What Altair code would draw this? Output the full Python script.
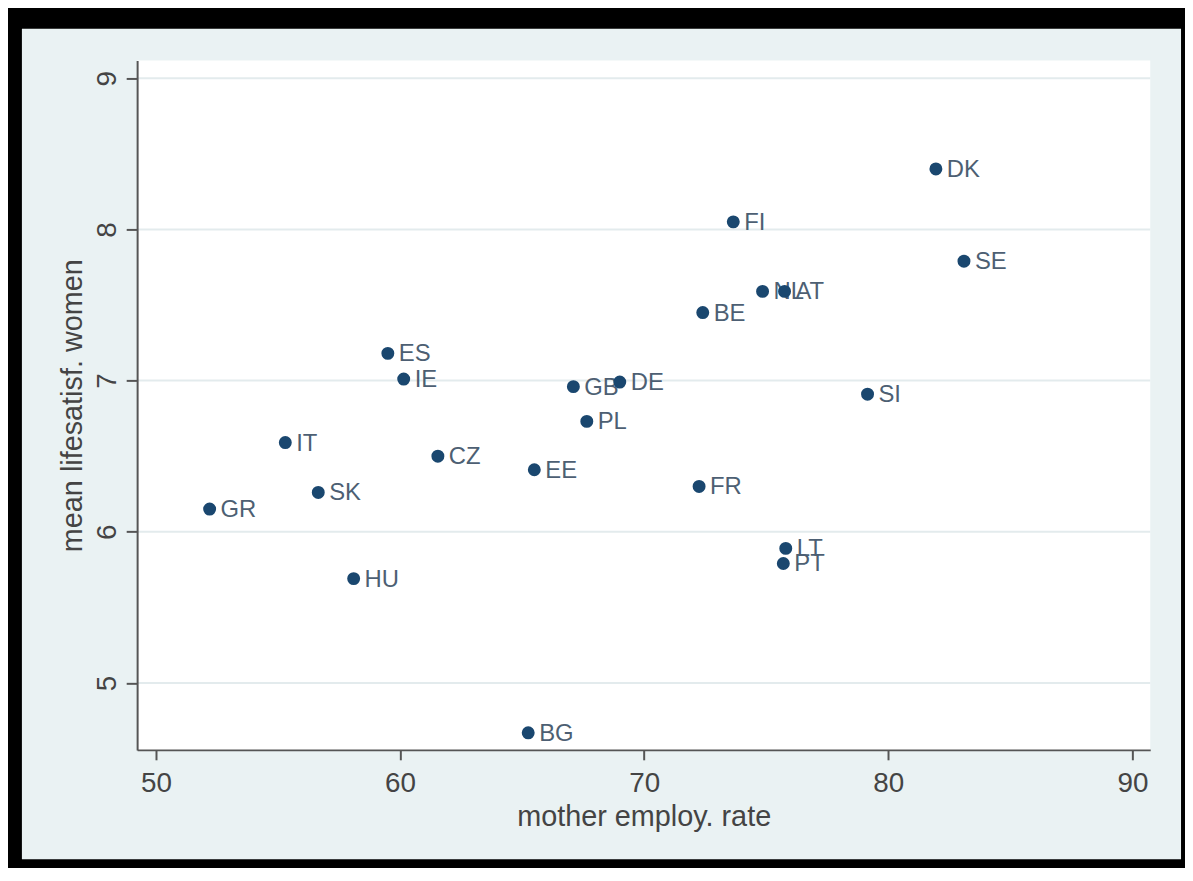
import altair as alt
import pandas as pd

countries = ["DK", "FI", "SE", "NL", "AT", "BE", "ES", "IE", "GB", "DE", "SI",
             "PL", "IT", "CZ", "EE", "FR", "SK", "GR", "LT", "PT", "HU", "BG"]
employ = [81.95, 73.65, 83.1, 74.85, 75.75, 72.4, 59.5, 60.15, 67.1, 69.0, 79.15,
          67.65, 55.3, 61.55, 65.5, 72.25, 56.65, 52.2, 75.8, 75.7, 58.1, 65.25]
satisf = [8.40, 8.05, 7.79, 7.59, 7.59, 7.45, 7.18, 7.01, 6.96, 6.99, 6.91,
          6.73, 6.59, 6.50, 6.41, 6.30, 6.26, 6.15, 5.89, 5.79, 5.69, 4.67]
x_ticks = [50, 60, 70, 80, 90]
y_ticks = [5, 6, 7, 8, 9]

df = pd.DataFrame({"country": countries, "employ": employ, "satisf": satisf})
grid_df = pd.DataFrame({"satisf": y_ticks})
one = pd.DataFrame({"a": [0]})

W, H = 1020, 694
FONT = "Liberation Sans"
LIGHT = "#eaf2f3"
NAVY = "#1a476f"

xscale = alt.Scale(domain=[49.23, 90.73], nice=False, zero=False)
yscale = alt.Scale(domain=[4.557, 9.117], nice=False, zero=False)

xaxis = alt.Axis(values=x_ticks, grid=False, domainColor="#555555",
                 domainWidth=2, tickColor="#555555", tickWidth=2,
                 tickSize=10, labelFontSize=28, labelColor="#444444",
                 labelFont=FONT, labelPadding=10, labelFlush=False,
                 title="mother employ. rate", titleFontSize=29,
                 titleFont=FONT, titleColor="#444444",
                 titleFontWeight="normal", titlePadding=5, zindex=1)
yaxis = alt.Axis(values=y_ticks, grid=False, domainColor="#555555",
                 domainWidth=2, tickColor="#555555", tickWidth=2,
                 tickSize=11, labelFontSize=28, labelColor="#444444",
                 labelFont=FONT, labelAngle=270, labelPadding=5,
                 labelFlush=False,
                 title="mean lifesatisf. women", titleFontSize=29,
                 titleFont=FONT, titleColor="#444444",
                 titleFontWeight="normal", titlePadding=6, zindex=1)

X = alt.X("employ:Q", scale=xscale, axis=xaxis)
Y = alt.Y("satisf:Q", scale=yscale, axis=yaxis)

outer = alt.Chart(one).mark_rect(color=LIGHT).encode(
    x=alt.value(-116), x2=alt.value(W + 31),
    y=alt.value(-32), y2=alt.value(H + 110))

inner = alt.Chart(one).mark_rect(color="white").encode(
    x=alt.value(0), x2=alt.value(W), y=alt.value(0), y2=alt.value(H))

grid = alt.Chart(grid_df).mark_rule(color="#e3ebed", strokeWidth=2).encode(y=Y)

labels = alt.Chart(df).mark_text(
    align="left", baseline="middle", dx=11, dy=1, fontSize=24, font=FONT,
    color="#4d5f73").encode(x=X, y=Y, text="country:N")

points = alt.Chart(df).mark_circle(size=170, color=NAVY, opacity=1).encode(
    x=X, y=Y, tooltip=["country", "employ", "satisf"])

chart = alt.layer(outer, inner, grid, labels, points).properties(
    width=W, height=H, background="#000000",
    padding={"left": 14, "top": 18, "right": 4, "bottom": 6}
).configure_view(stroke=None)

chart.save("out.html", embed_options={"renderer": "svg", "actions": False})
